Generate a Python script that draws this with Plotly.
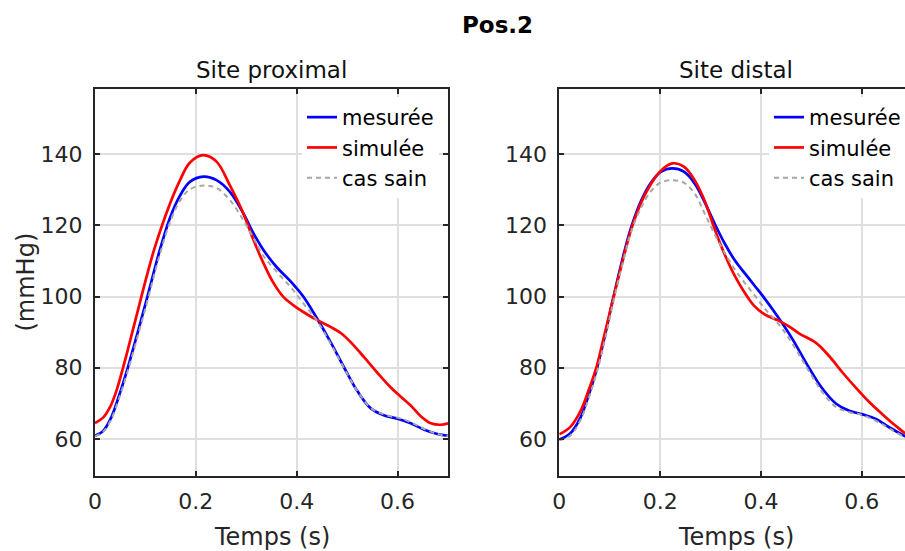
import plotly.graph_objects as go

# ---------------- data ----------------
# Site proximal
t_prox_mes = [0, 0.016, 0.032, 0.048, 0.065, 0.085, 0.104, 0.128, 0.149, 0.168, 0.188, 0.215, 0.241, 0.2675, 0.294, 0.314, 0.334, 0.36, 0.387, 0.413, 0.44, 0.468, 0.495, 0.521, 0.547, 0.574, 0.6, 0.626, 0.653, 0.679, 0.7]
p_prox_mes = [60.9, 62.2, 66.0, 72.3, 80.0, 90.1, 100, 112.8, 122.2, 128.2, 132.2, 133.7, 132.7, 129.4, 123.4, 117.8, 113.1, 108.3, 104.4, 100, 93.9, 87.0, 79.8, 73.3, 68.6, 66.6, 65.7, 64.4, 62.6, 61.4, 60.9]

t_prox_sim = [0, 0.016, 0.03, 0.042, 0.0556, 0.074, 0.092, 0.105, 0.1186, 0.149, 0.168, 0.188, 0.215, 0.241, 0.2675, 0.294, 0.314, 0.334, 0.3535, 0.373, 0.4, 0.422, 0.442, 0.468, 0.488, 0.507, 0.534, 0.56, 0.587, 0.607, 0.626, 0.646, 0.666, 0.686, 0.7]
p_prox_sim = [64.5, 66.0, 69.0, 73.3, 80, 90, 100, 107, 113.8, 126.2, 132.5, 137.6, 139.7, 137.9, 131.2, 123.4, 116.0, 109.4, 103.9, 100.0, 96.9, 94.9, 93.3, 91.4, 89.7, 87.2, 82.9, 78.6, 74.4, 71.8, 69.4, 66.4, 64.4, 64.0, 64.4]

t_prox_sain = [0, 0.016, 0.032, 0.048, 0.065, 0.085, 0.104, 0.128, 0.149, 0.168, 0.188, 0.215, 0.241, 0.2675, 0.294, 0.314, 0.334, 0.36, 0.387, 0.413, 0.44, 0.468, 0.495, 0.521, 0.547, 0.574, 0.6, 0.626, 0.653, 0.679, 0.7]
p_prox_sain = [60.8, 62.0, 65.5, 71.5, 79.1, 89.0, 98.8, 111.6, 121.0, 126.8, 130.1, 131.2, 130.5, 127.1, 121.5, 116.5, 111.4, 107.0, 102.8, 98.1, 93.2, 86.6, 79.6, 73.3, 68.7, 66.8, 66.0, 64.7, 62.8, 61.4, 60.8]

# Site distal
t_dist_mes = [0, 0.022, 0.042, 0.058, 0.075, 0.091, 0.1073, 0.129, 0.142, 0.162, 0.182, 0.201, 0.224, 0.247, 0.2683, 0.288, 0.308, 0.328, 0.348, 0.368, 0.387, 0.407, 0.434, 0.46, 0.496, 0.522, 0.549, 0.575, 0.601, 0.628, 0.654, 0.684, 0.7]
p_dist_mes = [59.8, 61.6, 66.0, 72.2, 80, 89.3, 99.8, 112.6, 119.2, 126.8, 132.0, 135.0, 136, 135.1, 131.8, 126.6, 120.5, 114.9, 110.2, 106.5, 103.1, 99.5, 94.2, 88.6, 79.8, 74.1, 69.9, 67.9, 66.9, 65.6, 63.3, 60.9, 59.8]

t_dist_sim = [0, 0.022, 0.042, 0.058, 0.073, 0.087, 0.1, 0.115, 0.13, 0.142, 0.162, 0.182, 0.201, 0.224, 0.247, 0.2683, 0.288, 0.308, 0.328, 0.348, 0.368, 0.387, 0.407, 0.434, 0.46, 0.476, 0.509, 0.535, 0.562, 0.588, 0.615, 0.641, 0.667, 0.684, 0.7]
p_dist_sim = [61.3, 63.4, 67.8, 73.6, 79.8, 87.8, 95.4, 104.1, 112.4, 118.6, 126.3, 131.7, 135.3, 137.4, 136.5, 132.7, 127.0, 119.0, 111.8, 105.8, 101.0, 97.3, 95.0, 93.3, 91.2, 89.6, 87.0, 83.3, 78.6, 74.4, 70.3, 66.9, 63.7, 61.8, 60.6]

t_dist_sain = [0, 0.022, 0.042, 0.058, 0.075, 0.091, 0.1073, 0.129, 0.142, 0.162, 0.182, 0.201, 0.224, 0.247, 0.2683, 0.288, 0.308, 0.328, 0.348, 0.368, 0.387, 0.407, 0.434, 0.46, 0.496, 0.522, 0.549, 0.575, 0.601, 0.628, 0.654, 0.684, 0.7]
p_dist_sain = [59.6, 61.0, 65.3, 71.3, 79, 88.2, 98.6, 111.2, 118.0, 124.9, 129.6, 132.0, 132.7, 132, 129, 123.4, 117.5, 112.3, 107.6, 103.8, 100.4, 96.7, 92.4, 87.3, 78.8, 73.1, 68.9, 67.5, 66.7, 65.1, 63.0, 60.6, 59.6]

series_names = ["mesurée", "simulée", "cas sain"]
subplot_titles = ["Site proximal", "Site distal"]
main_title = "Pos.2"
x_label = "Temps (s)"
y_label = "(mmHg)"
x_ticks = [0, 0.2, 0.4, 0.6]
x_ticktext = ["0", "0.2", "0.4", "0.6"]
y_ticks = [60, 80, 100, 120, 140]

# ---------------- figure ----------------
W, H = 905, 551
FONT = "DejaVu Sans"
AX = "#262626"

fig = go.Figure()

def add_set(tm, pm, ts, ps, tn, pn, xa, ya, leg):
    fig.add_trace(go.Scatter(x=tm, y=pm, mode="lines", name=series_names[0],
                             line=dict(color="#0000ff", width=2.7, shape="spline", smoothing=1.0),
                             xaxis=xa, yaxis=ya, legend=leg))
    fig.add_trace(go.Scatter(x=ts, y=ps, mode="lines", name=series_names[1],
                             line=dict(color="#ff0000", width=2.7, shape="spline", smoothing=1.0),
                             xaxis=xa, yaxis=ya, legend=leg))
    fig.add_trace(go.Scatter(x=tn, y=pn, mode="lines", name=series_names[2],
                             line=dict(color="#a6a6a6", width=2, dash="5px,4px", shape="spline", smoothing=1.0),
                             xaxis=xa, yaxis=ya, legend=leg))

add_set(t_prox_mes, p_prox_mes, t_prox_sim, p_prox_sim, t_prox_sain, p_prox_sain, "x", "y", "legend")
add_set(t_dist_mes, p_dist_mes, t_dist_sim, p_dist_sim, t_dist_sain, p_dist_sain, "x2", "y2", "legend2")

# pixel geometry
L1, R1 = 95, 448
L2 = 559.3
TOP, BOT = 89, 476
px_per_unit = (R1 - L1) / 0.7
x2_max = (W - L2) / px_per_unit

ydom = [1 - BOT / H, 1 - TOP / H]
yrange = [49.6, 158.3]

common_x = dict(tickvals=x_ticks, ticktext=x_ticktext, showgrid=True, gridcolor="#dfdfdf", gridwidth=1.6,
                zeroline=False, showline=True, linecolor=AX, linewidth=2, ticks="inside", ticklen=5,
                tickwidth=1.5, tickcolor=AX, tickfont=dict(family=FONT, size=22, color=AX),
                automargin=False, ticklabelstandoff=5)
common_y = dict(tickvals=y_ticks, range=yrange, showgrid=True, gridcolor="#dfdfdf", gridwidth=1.6,
                zeroline=False, showline=True, linecolor=AX, linewidth=2, ticks="inside", ticklen=5,
                tickwidth=1.5, tickcolor=AX, tickfont=dict(family=FONT, size=22, color=AX),
                ticklabelstandoff=6, automargin=False)

fig.update_layout(
    width=W, height=H,
    margin=dict(l=0, r=0, t=0, b=0, autoexpand=False),
    paper_bgcolor="white", plot_bgcolor="white",
    xaxis=dict(domain=[L1 / W, R1 / W], range=[0, 0.7], anchor="y", mirror="ticks", **common_x),
    yaxis=dict(domain=ydom, anchor="x", mirror="ticks", **common_y),
    xaxis2=dict(domain=[L2 / W, 1.0], range=[0, x2_max], anchor="y2", mirror="ticks", **common_x),
    yaxis2=dict(domain=ydom, anchor="x2", mirror=False, **common_y),
    legend=dict(x=302 / W, y=1 - 97 / H, xanchor="left", yanchor="top", bgcolor="white",
                borderwidth=0, itemwidth=30, font=dict(family=FONT, size=21, color="#000000")),
    legend2=dict(x=769 / W, y=1 - 97 / H, xanchor="left", yanchor="top", bgcolor="white",
                 borderwidth=0, itemwidth=30, font=dict(family=FONT, size=21, color="#000000")),
    showlegend=True,
)

ann = []
ann.append(dict(text="<b>" + main_title + "</b>", x=497.5 / W, y=1 - 25 / H, xref="paper", yref="paper",
                showarrow=False, font=dict(family=FONT, size=23, color="#000000"), xanchor="center", yanchor="middle"))
ann.append(dict(text=subplot_titles[0], x=(L1 + R1) / 2 / W, y=1 - 70 / H, xref="paper", yref="paper",
                showarrow=False, font=dict(family=FONT, size=23, color="#111111"), xanchor="center", yanchor="middle"))
ann.append(dict(text=subplot_titles[1], x=735.5 / W, y=1 - 70 / H, xref="paper", yref="paper",
                showarrow=False, font=dict(family=FONT, size=23, color="#111111"), xanchor="center", yanchor="middle"))
ann.append(dict(text=x_label, x=(L1 + R1) / 2 / W, y=1 - 537 / H, xref="paper", yref="paper",
                showarrow=False, font=dict(family=FONT, size=24, color=AX), xanchor="center", yanchor="middle"))
ann.append(dict(text=x_label, x=735.5 / W, y=1 - 537 / H, xref="paper", yref="paper",
                showarrow=False, font=dict(family=FONT, size=24, color=AX), xanchor="center", yanchor="middle"))
ann.append(dict(text=y_label, x=25 / W, y=1 - 282.5 / H, xref="paper", yref="paper", textangle=-90,
                showarrow=False, font=dict(family=FONT, size=24, color=AX), xanchor="center", yanchor="middle"))
fig.update_layout(annotations=ann)

fig.write_html("out.html", config={"displayModeBar": False},
               post_script="document.body.style.margin='0';document.body.style.padding='0';document.body.style.overflow='hidden';")
